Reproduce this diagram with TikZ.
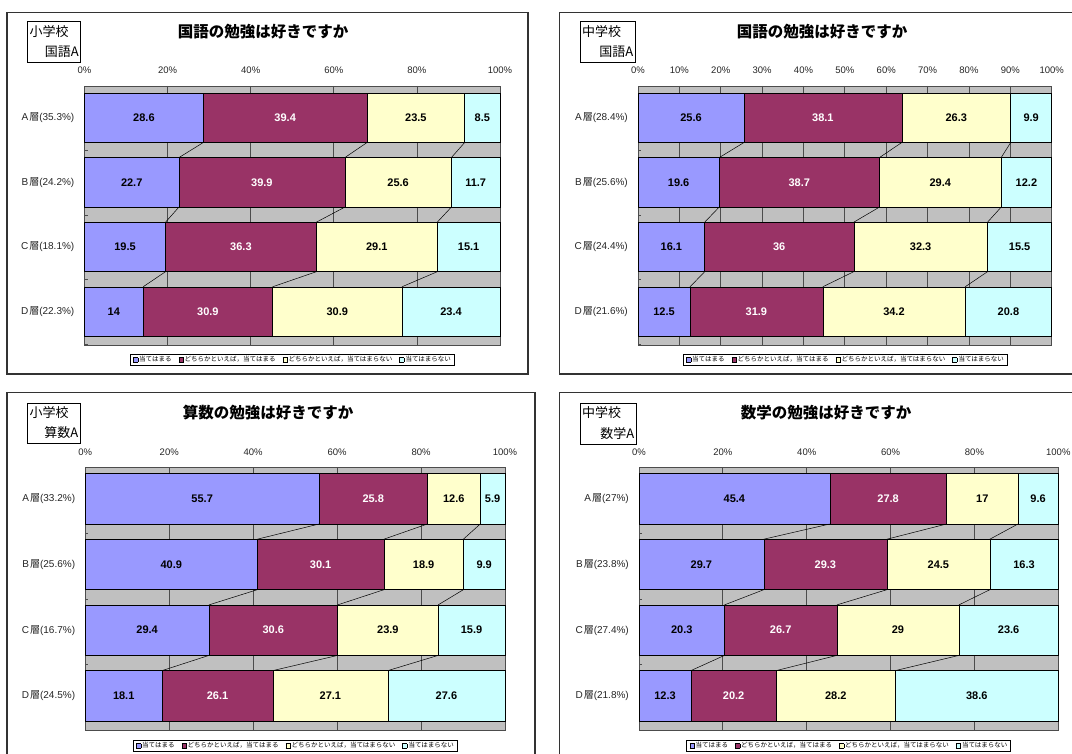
\documentclass[tikz,border=0pt]{standalone}
\usepackage{fontspec}
\setmainfont{Liberation Sans}
\newfontfamily\jp{Noto Sans CJK JP}
\definecolor{cA}{HTML}{9999FF}
\definecolor{cB}{HTML}{993366}
\definecolor{cC}{HTML}{FFFFCC}
\definecolor{cD}{HTML}{CCFFFF}
\definecolor{pgray}{HTML}{C0C0C0}
\setlength\fboxsep{0pt}
\setlength\fboxrule{0.5pt}
\tikzset{
  frame/.style={draw=black!80, line width=1.3pt},
  lbox/.style={draw=black, line width=0.6pt},
  seg/.style={draw=black, line width=0.5pt},
  serline/.style={draw=black, line width=0.5pt},
  gridl/.style={draw=black!70, line width=0.8pt},
  paxis/.style={draw=black!70, line width=0.8pt},
  val/.style={font=\fontsize{11}{12}\selectfont\bfseries, inner sep=0pt},
  cat/.style={font=\fontsize{10}{11}\selectfont, text=black!85, anchor=east, inner sep=0pt},
  axl/.style={font=\fontsize{9.5}{10}\selectfont, text=black!85, inner sep=0pt},
  ttl/.style={font=\jp\bfseries\fontsize{15.5}{17}\selectfont, inner sep=0pt},
  ltxt/.style={font=\jp\fontsize{13}{14}\selectfont, inner sep=0pt},
  legendbox/.style={draw=black, line width=0.5pt, fill=white, inner xsep=3pt, inner ysep=2.2pt, font=\jp\fontsize{6.5}{7}\selectfont},
}
\newcommand\legmark[1]{\fcolorbox{black}{#1}{\rule{0pt}{4pt}\rule{4pt}{0pt}}}
\newcommand\legtext{\legmark{cA}\,当てはまる\hspace{7pt}\legmark{cB}\,どちらかといえば，当てはまる\hspace{7pt}\legmark{cC}\,どちらかといえば，当てはまらない\hspace{7pt}\legmark{cD}\,当てはまらない}
% #1 L, #2 W, #3 T, #4 B, #5 divisions, #6 label y, #7 pitch
\newcommand\plotbg[7]{%
  \fill[pgray] (#1,#3) rectangle ({#1+#2},#4);
  \pgfmathtruncatemacro\nm{#5-1}
  \foreach \k in {1,...,\nm} {\draw[gridl] ({#1+#2*\k/#5},#3) -- ({#1+#2*\k/#5},#4);}
  \draw[paxis] (#1,#3) rectangle ({#1+#2},#4);
  \foreach \j in {0,...,4} {\draw[paxis] (#1,{#3+#7*\j}) -- ({#1+3},{#3+#7*\j});}
  \foreach \k in {0,...,#5} {\pgfmathtruncatemacro\pc{\k*100/#5}
    \node[axl] at ({#1+#2*\k/#5},#6) {\pc\%};}
}
% #1 L, #2 W, #3 first top, #4 pitch, #5 bar height, #6 rows
\newcommand\chartrows[6]{%
  \foreach \a/\b/\c/\d/\lay/\pct [count=\i from 0] in {#6} {
    \pgfmathsetmacro\s{\a+\b+\c+\d}
    \pgfmathsetmacro\xa{#1}
    \pgfmathsetmacro\xb{#1+#2*(\a/\s)}
    \pgfmathsetmacro\xc{#1+#2*((\a+\b)/\s)}
    \pgfmathsetmacro\xd{#1+#2*((\a+\b+\c)/\s)}
    \pgfmathsetmacro\xe{#1+#2}
    \pgfmathsetmacro\yt{#3+#4*\i}
    \pgfmathsetmacro\yb{\yt+#5}
    \pgfmathsetmacro\ym{\yt+#5/2}
    \draw[seg,fill=cA] (\xa,\yt) rectangle (\xb,\yb);
    \draw[seg,fill=cB] (\xb,\yt) rectangle (\xc,\yb);
    \draw[seg,fill=cC] (\xc,\yt) rectangle (\xd,\yb);
    \draw[seg,fill=cD] (\xd,\yt) rectangle (\xe,\yb);
    \node[val] at ({(\xa+\xb)/2},\ym) {\a};
    \node[val,text=white] at ({(\xb+\xc)/2},\ym) {\b};
    \node[val] at ({(\xc+\xd)/2},\ym) {\c};
    \node[val] at ({(\xd+\xe)/2},\ym) {\d};
    \node[cat] at ({#1-10},\ym) {\lay\kern1pt{\jp 層}(\pct\%)};
    \ifnum\i>0
      \draw[serline] (\pxb,\pyb) -- (\xb,\yt);
      \draw[serline] (\pxc,\pyb) -- (\xc,\yt);
      \draw[serline] (\pxd,\pyb) -- (\xd,\yt);
    \fi
    \xdef\pxb{\xb}\xdef\pxc{\xc}\xdef\pxd{\xd}\xdef\pyb{\yb}
  }
}
\begin{document}
\begin{tikzpicture}[x=1pt,y=-1pt]
\useasboundingbox (0,0) rectangle (1072,754);
\clip (0,0) rectangle (1072,754);
\fill[white] (0,0) rectangle (1072,754);

% ---------- top left ----------
\draw[frame] (7,12.4) rectangle (528,374);
\draw[lbox] (27.5,21) rectangle (80.5,62.5);
\node[ltxt,anchor=west] (tl1) at (29.5,31.5) {小学校};
\node[ltxt,anchor=east] (tl2) at (79,51.5) {国語A};
\node[ttl] (tlt) at (263,32) {国語の勉強は好きですか};
\plotbg{84.5}{415.5}{86}{345}{5}{70}{64.6}
\chartrows{84.5}{415.5}{93}{64.6}{49.5}{28.6/39.4/23.5/8.5/A/35.3, 22.7/39.9/25.6/11.7/B/24.2, 19.5/36.3/29.1/15.1/C/18.1, 14/30.9/30.9/23.4/D/22.3}
\node[legendbox] (tll) at (292,359.5) {\legtext};

% ---------- top right ----------
\draw[frame] (559.6,12.4) rectangle (1090,374);
\draw[lbox] (580,21) rectangle (635,62.5);
\node[ltxt,anchor=west] (tr1) at (582,31.5) {中学校};
\node[ltxt,anchor=east] (tr2) at (633.5,51.5) {国語A};
\node[ttl] (trt) at (822,32) {国語の勉強は好きですか};
\plotbg{638}{413.7}{86}{345}{10}{70}{64.6}
\chartrows{638}{413.7}{93}{64.6}{49.5}{25.6/38.1/26.3/9.9/A/28.4, 19.6/38.7/29.4/12.2/B/25.6, 16.1/36/32.3/15.5/C/24.4, 12.5/31.9/34.2/20.8/D/21.6}
\node[legendbox] (trl) at (845,359.5) {\legtext};

% ---------- bottom left ----------
\draw[frame] (7,392.7) rectangle (535,770);
\draw[lbox] (27.5,403) rectangle (80,443.5);
\node[ltxt,anchor=west] (bl1) at (29.5,413) {小学校};
\node[ltxt,anchor=east] (bl2) at (78.5,433) {算数A};
\node[ttl] (blt) at (268,413) {算数の勉強は好きですか};
\plotbg{85.3}{419.7}{467.5}{730}{5}{452}{65.7}
\chartrows{85.3}{419.7}{473.5}{65.7}{50.5}{55.7/25.8/12.6/5.9/A/33.2, 40.9/30.1/18.9/9.9/B/25.6, 29.4/30.6/23.9/15.9/C/16.7, 18.1/26.1/27.1/27.6/D/24.5}
\node[legendbox] (bll) at (295,745.5) {\legtext};

% ---------- bottom right ----------
\draw[frame] (559.6,392.7) rectangle (1090,770);
\draw[lbox] (580,403) rectangle (636,444);
\node[ltxt,anchor=west] (br1) at (582,413) {中学校};
\node[ltxt,anchor=east] (br2) at (634.5,433.5) {数学A};
\node[ttl] (brt) at (826,413) {数学の勉強は好きですか};
\plotbg{639}{419.3}{467.5}{730}{5}{452}{65.7}
\chartrows{639}{419.3}{473.5}{65.7}{50.5}{45.4/27.8/17/9.6/A/27, 29.7/29.3/24.5/16.3/B/23.8, 20.3/26.7/29/23.6/C/27.4, 12.3/20.2/28.2/38.6/D/21.8}
\node[legendbox] (brl) at (848.5,745.5) {\legtext};
\end{tikzpicture}
\end{document}
